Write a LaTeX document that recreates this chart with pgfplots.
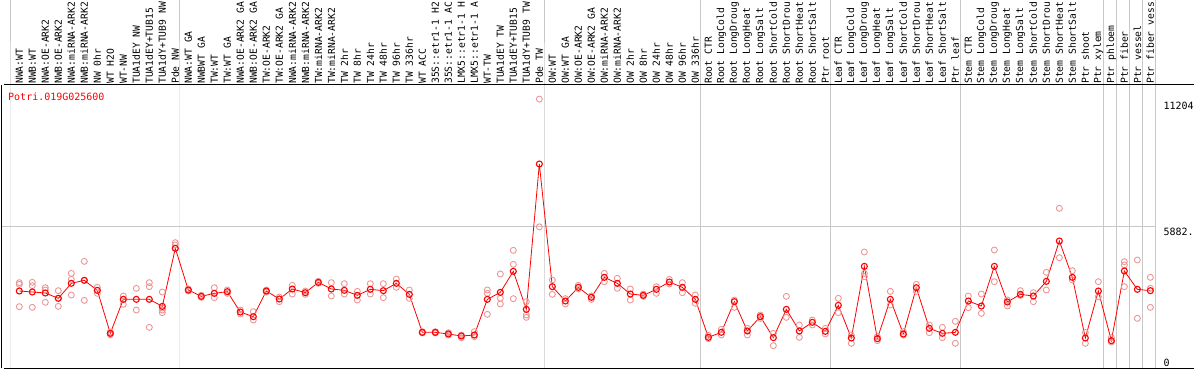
\documentclass[border=0pt]{standalone}
\usepackage{fontspec}
\setmonofont{DejaVu Sans Mono}
\usepackage{pgfplots}
\pgfplotsset{compat=1.18}
\definecolor{rep}{RGB}{236,150,150}
\definecolor{gridg}{RGB}{200,200,200}
\begin{document}
\begin{tikzpicture}
\begin{axis}[
  at={(2pt,2pt)}, anchor=south west, scale only axis,
  width=1192pt, height=283pt,
  xmin=-0.331, xmax=91.362, ymin=0, ymax=11792,
  axis line style={draw=none},
  xtick={1,...,88},
  xticklabels={{NWA:WT},{NWB:WT},{NWA:OE-ARK2},{NWB:OE-ARK2},{NWA:miRNA-ARK2},{NWB:miRNA-ARK2},{NW 0hr},{WT H2O},{WT-NW},{TUA1dEY NW},{TUA1dEY+TUB15},{TUA1dY+TUB9 NW},{Pde NW},
  {NWA:WT GA},{NWBWT GA},{TW:WT},{TW:WT GA},{NWA:OE-ARK2 GA},{NWB:OE-ARK2 GA},{TW:OE-ARK2},{TW:OE-ARK2 GA},{NWA:miRNA-ARK2},{NWB:miRNA-ARK2},{TW:miRNA-ARK2},{TW:miRNA-ARK2},{TW 2hr},{TW 8hr},{TW 24hr},{TW 48hr},{TW 96hr},{TW 336hr},{WT ACC},{35S::etr1-1 H2},{35S::etr1-1 AC},{LMX5::etr1-1 H},{LMX5::etr1-1 A},{WT-TW},{TUA1dEY TW},{TUA1dEY+TUB15},{TUA1dY+TUB9 TW},{Pde TW},
  {OW:WT},{OW:WT GA},{OW:OE-ARK2},{OW:OE-ARK2 GA},{OW:miRNA-ARK2},{OW:miRNA-ARK2},{OW 2hr},{OW 8hr},{OW 24hr},{OW 48hr},{OW 96hr},{OW 336hr},
  {Root CTR},{Root LongCold},{Root LongDroug},{Root LongHeat},{Root LongSalt},{Root ShortCold},{Root ShortDrou},{Root ShortHeat},{Root ShortSalt},{Ptr root},
  {Leaf CTR},{Leaf LongCold},{Leaf LongDroug},{Leaf LongHeat},{Leaf LongSalt},{Leaf ShortCold},{Leaf ShortDrou},{Leaf ShortHeat},{Leaf ShortSalt},{Ptr leaf},
  {Stem CTR},{Stem LongCold},{Stem LongDroug},{Stem LongHeat},{Stem LongSalt},{Stem ShortCold},{Stem ShortDrou},{Stem ShortHeat},{Stem ShortSalt},{Ptr shoot},{Ptr xylem},{Ptr phloem},{Ptr fiber},{Ptr vessel},{Ptr fiber vess}},
  xticklabel pos=upper, xtick pos=upper,
  major tick length=0pt, ytick=\empty,
  xticklabel style={rotate=90, anchor=west, font=\ttfamily\fontsize{9.7}{10}\selectfont, inner sep=1pt},
  clip=false,
]
% group separators
\pgfplotsinvokeforeach{0.36,13.36,41.36,53.36,63.36,73.36,84.36,85.36,86.36,87.36,88.36}{
  \draw[gridg, line width=1pt] (axis cs:#1,0) -- (axis cs:#1,11792) -- ++(0pt,85pt);
}
\draw[gridg, line width=1pt] (axis cs:-0.331,5882) -- (axis cs:88.36,5882);
% frame
\draw[black, line width=1pt] (rel axis cs:0,0) -- (rel axis cs:0,1);
\draw[black, line width=1pt] (rel axis cs:0,1) ++(-2pt,0) -- (rel axis cs:1,1);
\draw[black, line width=1pt] (rel axis cs:0,0) ++(-2pt,0) -- (rel axis cs:1,0);
% replicates
\addplot[only marks, mark=o, mark size=3pt, rep, line width=0.9pt] table {
x y
1 3556
1 3486
1 2556
2 3569
2 3431
2 2528
3 3347
3 3250
3 2736
4 3222
4 2903
4 2569
5 3944
5 3694
5 3042
6 4444
6 3653
6 2819
7 3361
7 3236
7 3111
8 1500
8 1444
8 1380
9 3000
9 2861
9 2653
10 3319
10 2417
11 3556
11 3389
11 1694
12 3167
12 2500
12 2417
12 2306
13 5222
13 5125
13 4986
14 3292
14 3208
15 3030
15 2940
16 3347
16 3111
16 2931
17 3250
17 3111
18 2417
18 2250
19 2347
19 2000
20 3250
20 3167
21 2958
21 2764
22 3444
22 3083
23 3208
23 3069
24 3611
24 3530
25 3556
25 3000
26 3514
26 3083
27 3194
27 2833
28 3514
28 3083
29 3514
29 2931
30 3708
30 3361
31 3250
31 2903
32 1510
32 1460
33 1510
33 1460
34 1472
34 1375
35 1375
35 1264
36 1514
36 1306
37 3250
37 3111
37 2236
38 3917
38 2903
38 2667
39 4903
39 4319
39 2889
40 2764
40 2208
40 2111
41 11204
41 5882
42 3667
42 3069
43 2889
43 2667
44 3444
44 3300
45 3000
45 2860
46 3944
46 3597
47 3736
47 3319
48 3292
48 2833
49 3083
49 2986
50 3389
50 3111
51 3694
51 3500
52 3556
52 3139
53 3042
53 2694
54 1361
54 1222
55 1611
55 1375
56 2833
56 2528
57 1653
57 1375
58 2208
58 2069
59 1444
59 931
60 2986
60 2111
61 1792
61 1278
62 2000
62 1792
63 1653
63 1417
64 2903
64 2306
65 1375
65 1028
66 4833
66 3944
66 3806
67 1306
67 1139
68 3194
68 2625
69 1514
69 1375
70 3486
70 3194
71 1792
71 1472
72 1694
72 1264
73 1944
73 1028
74 3000
74 2514
75 3083
75 2278
76 4917
76 3597
77 2833
77 2583
78 3222
78 3028
79 3139
79 2764
80 3986
80 3250
81 6653
81 4597
82 4056
82 3667
83 1480
83 1028
84 3597
84 2972
85 1264
85 1083
86 4431
86 4292
86 3389
87 4500
87 2069
88 3778
88 3319
88 2528
};
% means
\addplot[red, line width=0.8pt, mark=o, mark size=3pt, mark options={line width=1.1pt}] table {
x y
1 3208
2 3167
3 3125
4 2903
5 3528
6 3653
7 3236
8 1444
9 2861
10 2861
11 2861
12 2569
13 4986
14 3250
15 2986
16 3111
17 3181
18 2333
19 2139
20 3208
21 2875
22 3292
23 3139
24 3569
25 3292
26 3236
27 3028
28 3278
29 3222
30 3528
31 3069
32 1486
33 1486
34 1417
35 1333
36 1375
37 2861
38 3153
39 4028
40 2444
41 8500
42 3389
43 2792
44 3361
45 2944
46 3778
47 3528
48 3083
49 3028
50 3278
51 3583
52 3361
53 2861
54 1278
55 1486
56 2764
57 1542
58 2139
59 1264
60 2444
61 1542
62 1903
63 1528
64 2611
65 1250
66 4236
67 1222
68 2861
69 1417
70 3347
71 1653
72 1444
73 1486
74 2792
75 2583
76 4236
77 2750
78 3069
79 3000
80 3611
81 5292
82 3778
83 1250
84 3208
85 1139
86 4042
87 3278
88 3222
};
\node[anchor=north west, inner sep=0pt, red, font=\ttfamily\fontsize{10}{10}\selectfont] at (axis cs:0.13,11480) {Potri.019G025600};
\node[anchor=north west, inner sep=0pt, yshift=-3pt, font=\ttfamily\fontsize{10}{10}\selectfont] at (axis cs:89,11204) {11204};
\node[anchor=north west, inner sep=0pt, yshift=-1.5pt, font=\ttfamily\fontsize{10}{10}\selectfont] at (axis cs:89,5882) {5882.};
\node[anchor=south west, inner sep=0pt, yshift=1.5pt, font=\ttfamily\fontsize{10}{10}\selectfont] at (axis cs:89,0) {0};
\end{axis}
\pgfresetboundingbox
\path[use as bounding box] (0,0) rectangle (1194pt,370pt);
\end{tikzpicture}
\end{document}
